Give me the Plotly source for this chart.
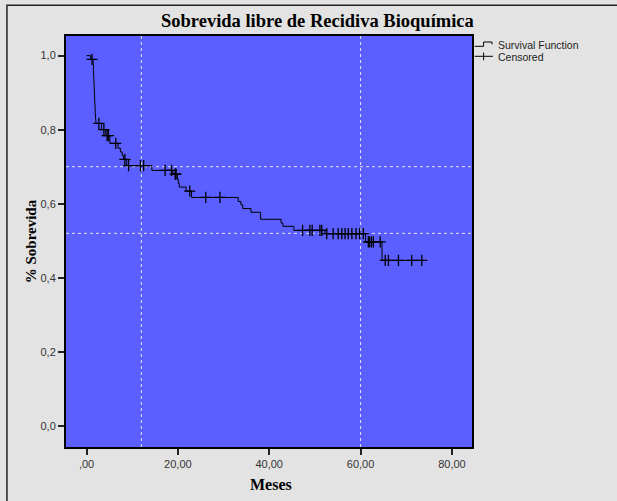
import plotly.graph_objects as go

# ---- data ----
event_months = [0, 0.9, 1.45, 1.5, 1.55, 1.6, 1.65, 1.7, 1.75, 1.8, 1.85, 1.9, 1.97, 2.04,
                3.3, 4.2, 5.1, 6.9, 7.4, 7.8, 8.1, 8.8, 14.3, 18.9, 19.9, 20.1, 20.3,
                21.8, 23.0, 33.2, 33.8, 34.2, 36.0, 38.1, 42.6, 43.0, 45.4, 52.2,
                61.1, 64.7, 73.8]
event_surv = [1.0, 0.99, 0.975, 0.96, 0.945, 0.93, 0.915, 0.90, 0.885, 0.87, 0.855, 0.84, 0.828, 0.817,
              0.80, 0.784, 0.763, 0.75, 0.74, 0.73, 0.72, 0.703, 0.690, 0.680, 0.666, 0.655, 0.645,
              0.634, 0.617, 0.606, 0.597, 0.587, 0.577, 0.558, 0.548, 0.539, 0.528, 0.519,
              0.497, 0.447, 0.447]

censor_months = [1.2, 2.7, 3.8, 4.5, 4.8, 6.4, 8.4, 9.2, 11.8, 12.5, 17.2, 18.6, 19.4, 19.6,
                 22.6, 26.1, 29.2, 47.3, 48.9, 49.4, 51.1, 51.5, 52.6, 54.0, 55.1, 55.9,
                 56.6, 57.3, 58.1, 59.0, 59.8, 60.6, 61.7, 62.0, 62.4, 62.8, 64.3,
                 65.4, 66.1, 68.3, 71.2, 73.4]
censor_surv = [0.99, 0.817, 0.80, 0.784, 0.784, 0.763, 0.72, 0.703, 0.703, 0.703, 0.690, 0.690, 0.680, 0.680,
               0.634, 0.617, 0.617, 0.528, 0.528, 0.528, 0.528, 0.528, 0.519, 0.519, 0.519, 0.519,
               0.519, 0.519, 0.519, 0.519, 0.519, 0.519, 0.497, 0.497, 0.497, 0.497, 0.497,
               0.447, 0.447, 0.447, 0.447, 0.447]

ref_months = [12, 60]
ref_surv = [0.70, 0.52]

x_tickvals = [0, 20, 40, 60, 80]
x_ticktext = [",00", "20,00", "40,00", "60,00", "80,00"]
y_tickvals = [0.0, 0.2, 0.4, 0.6, 0.8, 1.0]
y_ticktext = ["0,0", "0,2", "0,4", "0,6", "0,8", "1,0"]

title_text = "Sobrevida libre de Recidiva Bioquímica"
x_title = "Meses"
y_title = "% Sobrevida"
legend_labels = ["Survival Function", "Censored"]

# ---- layout geometry ----
W, H = 617, 501
L, R, T, B = 66, 471.7, 35.7, 446.7
PW, PH = R - L, B - T


def px(x):
    return (x - L) / PW


def py(y):
    return (B - y) / PH


fig = go.Figure()
fig.add_trace(go.Scatter(
    x=event_months, y=event_surv, mode="lines", line=dict(color="black", width=1, shape="hv"),
    name=legend_labels[0], showlegend=False, hoverinfo="skip"))
fig.add_trace(go.Scatter(
    x=censor_months, y=censor_surv, mode="markers",
    marker=dict(symbol="cross-thin", size=8, line=dict(color="black", width=1.3)),
    name=legend_labels[1], showlegend=False, hoverinfo="skip"))

shapes = []
for m in ref_months:
    shapes.append(dict(type="line", xref="x", yref="paper", x0=m, x1=m, y0=0, y1=1,
                       line=dict(color="#e6e6e6", width=1, dash="3px,3px"), layer="below"))
for s in ref_surv:
    shapes.append(dict(type="line", xref="paper", yref="y", x0=0, x1=1, y0=s, y1=s,
                       line=dict(color="#e6e6e6", width=1, dash="3px,3px"), layer="below"))

# outer frame (left and top edges only)
shapes.append(dict(type="path", xref="paper", yref="paper",
                   path=f"M {px(7)} {py(520)} L {px(7)} {py(5)} L {px(640)} {py(5)}",
                   line=dict(color="#222222", width=1.5)))

# legend glyphs
g = dict(color="black", width=1)
shapes.append(dict(type="path", xref="paper", yref="paper",
                   path=f"M {px(474.3)} {py(46)} L {px(483.3)} {py(46)} L {px(483.3)} {py(41.7)} "
                        f"L {px(491.7)} {py(41.7)} L {px(491.7)} {py(44)}", line=g))
shapes.append(dict(type="line", xref="paper", yref="paper", x0=px(474.3), x1=px(492.7), y0=py(56), y1=py(56), line=g))
shapes.append(dict(type="line", xref="paper", yref="paper", x0=px(483.3), x1=px(483.3), y0=py(52.3), y1=py(60), line=g))

annotations = [
    dict(text=legend_labels[0], xref="paper", yref="paper", x=px(496), y=py(44.5), xanchor="left", yanchor="middle",
         showarrow=False, font=dict(family="Liberation Sans, Arial", size=10.5, color="#222222")),
    dict(text=legend_labels[1], xref="paper", yref="paper", x=px(496), y=py(57), xanchor="left", yanchor="middle",
         showarrow=False, font=dict(family="Liberation Sans, Arial", size=10.5, color="#222222")),
    dict(text=f"<b>{title_text}</b>", xref="paper", yref="paper", x=px(317), y=py(21), xanchor="center", yanchor="middle",
         showarrow=False, font=dict(family="Liberation Serif, Times New Roman", size=18.5, color="black")),
    dict(text=f"<b>{x_title}</b>", xref="paper", yref="paper", x=px(270.5), y=py(484), xanchor="center", yanchor="middle",
         showarrow=False, font=dict(family="Liberation Serif, Times New Roman", size=16, color="black")),
    dict(text=f"<b>{y_title}</b>", xref="paper", yref="paper", x=px(31), y=py(241), xanchor="center", yanchor="middle",
         textangle=-90, showarrow=False, font=dict(family="Liberation Serif, Times New Roman", size=15, color="black")),
]

axis_common = dict(showgrid=False, zeroline=False, showline=True, mirror=True, linecolor="black", linewidth=2,
                   ticks="outside", ticklen=6, tickwidth=1.5, tickcolor="#222222",
                   tickfont=dict(family="Liberation Sans, Arial", size=11, color="#333333"))

fig.update_layout(
    width=W, height=H,
    margin=dict(l=L, r=W - R, t=T, b=H - B, pad=0),
    paper_bgcolor="#e3e3e3", plot_bgcolor="#5b5fff",
    showlegend=False,
    xaxis=dict(range=[-4.5, 84.4], tickmode="array", tickvals=x_tickvals, ticktext=x_ticktext, **axis_common),
    yaxis=dict(range=[-0.057, 1.053], tickmode="array", tickvals=y_tickvals, ticktext=y_ticktext, **axis_common),
    shapes=shapes, annotations=annotations,
)

fig.write_html(
    "out.html",
    config={"displayModeBar": False},
    post_script="document.documentElement.style.overflow='hidden';document.body.style.overflow='hidden';document.body.style.margin='0';",
)
